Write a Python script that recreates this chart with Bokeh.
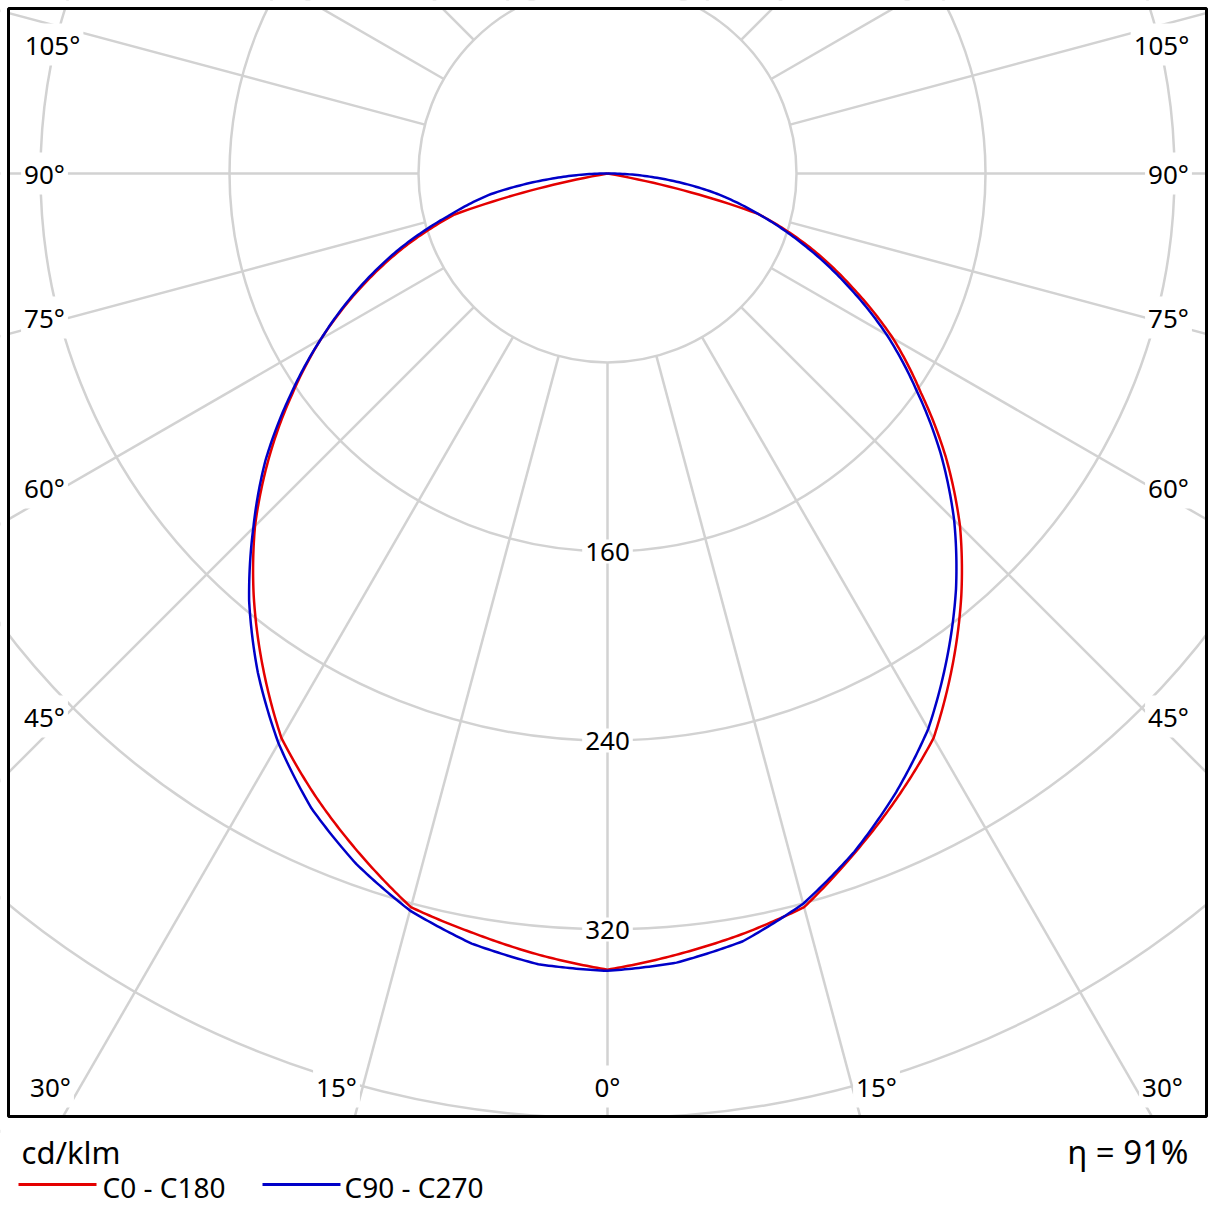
import numpy as np
from bokeh.plotting import figure
from bokeh.models import Range1d, Label
from bokeh.embed import file_html
from bokeh.resources import INLINE

# ---------------- data (cd/klm) ----------------
gamma = [0, 5, 10, 15, 20, 25, 30, 35, 40, 45, 50, 55, 60, 65, 70, 75, 80, 85, 90]
c0 = [337, 332, 327, 321.5, 306, 291, 276, 254.5, 233, 211, 187, 162, 139.5, 114.5, 91, 66, 0, 0, 0]
c180 = [337, 332, 326.5, 321.5, 306.5, 291.5, 276, 254.5, 233, 211, 187, 163, 140, 116, 92, 67, 0, 0, 0]
c90 = [337.5, 335.3, 330, 320, 305.5, 289, 271.5, 250.5, 229.5, 207.5, 184, 159.5, 136.5, 112, 88.5, 66, 45, 21, 0]
c270 = [337.5, 336, 331, 323, 311, 296.5, 278.5, 258, 236, 212, 189, 164, 140, 117, 94, 70, 50, 22, 0]
ring_values = [80, 160, 240, 320, 400, 480, 560]
ring_labels = ["160", "240", "320"]
ray_angles = list(range(0, 181, 15))
side_labels = ["105°", "90°", "75°", "60°", "45°"]
bottom_labels = ["30°", "15°", "0°", "15°", "30°"]
series_names = ["C0 - C180", "C90 - C270"]
unit_text = "cd/klm"
eta_text = "η = 91%"

# ---------------- geometry ----------------
W = H = 1214
S = 2.3625          # pixels per cd/klm
CX, CY = 607, 173   # pole position in pixels
FL, FT, FR, FB = 8, 8, 1206, 1116   # frame box in pixels


def dx(px):
    return (px - CX) / S


def dy(py):
    return (CY - py) / S


FONT = "Noto Sans"
GRID = "#d2d2d2"
RED = "#e40000"
BLUE = "#0000c8"

p = figure(width=W, height=H, x_range=Range1d(dx(0), dx(W)), y_range=Range1d(dy(H), dy(0)),
           x_axis_type=None, y_axis_type=None, output_backend="svg", toolbar_location=None,
           min_border=0)
p.outline_line_color = None
p.background_fill_color = "white"
p.border_fill_color = "white"
p.grid.visible = False

# rings
p.circle(x=[0] * len(ring_values), y=[0] * len(ring_values), radius=ring_values,
         fill_color=None, line_color=GRID, line_width=2.5)

# rays starting at the inner ring
xs, ys = [], []
r0, r1 = ring_values[0], 800
for a in ray_angles:
    t = np.radians(a)
    for sgn in (1, -1):
        if a in (0, 180) and sgn == -1:
            continue
        xs.append([sgn * r0 * np.sin(t), sgn * r1 * np.sin(t)])
        ys.append([-r0 * np.cos(t), -r1 * np.cos(t)])
p.multi_line(xs, ys, line_color=GRID, line_width=2.5)


def curve(right, left):
    # polar line: intensity varies linearly with angle between measured angles
    g = np.linspace(0, 90, 361)
    r = np.interp(g, gamma, right)
    l = np.interp(g, gamma, left)
    t = np.radians(g)
    x = np.concatenate([-(l * np.sin(t))[::-1], (r * np.sin(t))[1:]])
    y = np.concatenate([-(l * np.cos(t))[::-1], -(r * np.cos(t))[1:]])
    return x, y


x, y = curve(c0, c180)
p.line(x, y, line_color=RED, line_width=2.5, line_join="round")
x, y = curve(c90, c270)
p.line(x, y, line_color=BLUE, line_width=2.5, line_join="round")

# white mask outside the frame box
p.quad(left=[dx(0), dx(0), dx(0), dx(FR)], right=[dx(W), dx(FL), dx(W), dx(W)],
       top=[dy(0), dy(0), dy(FB), dy(0)], bottom=[dy(FT), dy(H), dy(H), dy(H)],
       fill_color="white", line_color=None)
# frame
p.quad(left=[dx(FL)], right=[dx(FR)], top=[dy(FT)], bottom=[dy(FB)],
       fill_color=None, line_color="black", line_width=3)

# legend lines
p.segment(x0=[dx(18), dx(262)], y0=[dy(1184), dy(1184)], x1=[dx(96), dx(340)], y1=[dy(1184), dy(1184)],
          line_color=[RED, BLUE], line_width=3)


def lab(text, px, py, size=26, align="center", bg=True):
    kw = dict(x=dx(px), y=dy(py), text=text, text_font=FONT, text_font_size=f"{size}px",
              text_color="black", text_align=align, text_baseline="middle")
    if bg:
        kw.update(background_fill_color="white", padding=3)
    p.add_layout(Label(**kw))


# ring labels on the 0° ray
for v in ring_labels:
    lab(v, CX, CY + float(v) * S)

# angle labels (left and right edges)
side_py = [44, 173, 317, 487, 716]
for t, py in zip(side_labels, side_py):
    lab(t, 52 if t == "105°" else 44, py)
    lab(t, 1161 if t == "105°" else 1168, py)
# angle labels (bottom edge)
bottom_px = [50, 336, 607, 876, 1162]
for t, px in zip(bottom_labels, bottom_px):
    lab(t, px, 1086)

# legend texts
lab(unit_text, 21, 1151, size=31, align="left", bg=False)
lab(series_names[0], 102, 1186, size=28, align="left", bg=False)
lab(series_names[1], 344, 1186, size=28, align="left", bg=False)
lab(eta_text, 1188, 1151, size=33, align="right", bg=False)

open("out.html", "w").write(file_html(p, INLINE))
